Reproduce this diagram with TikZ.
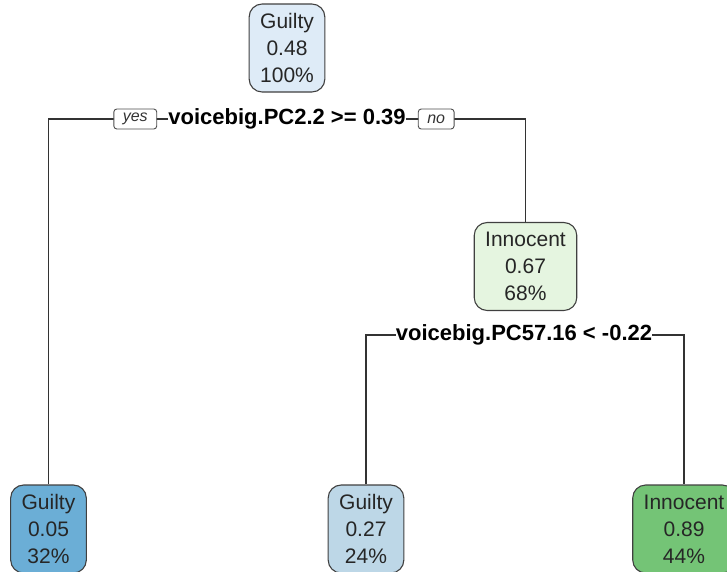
\documentclass[tikz,border=0pt]{standalone}
\usepackage{fontspec}
\setmainfont{Liberation Sans}
\usepackage{tikz}
\usetikzlibrary{positioning,backgrounds}

\definecolor{guiltyA}{HTML}{DEEBF7}
\definecolor{guiltyB}{HTML}{BDD7E7}
\definecolor{guiltyC}{HTML}{6BAED6}
\definecolor{innoA}{HTML}{E5F5E0}
\definecolor{innoC}{HTML}{74C476}

\tikzset{
  leafbox/.style={draw=black!75, line width=1.1pt, rounded corners=13pt, align=center,
    inner xsep=11pt, minimum height=88pt, text=black!85,
    font=\fontsize{21}{27}\selectfont},
  splitlabel/.style={fill=white, inner xsep=0pt, inner ysep=1pt,
    font=\fontsize{22}{26}\selectfont\bfseries},
  yesno/.style={draw=black!70, line width=0.9pt, fill=white, rounded corners=3pt,
    inner xsep=9pt, minimum height=20pt, inner ysep=0pt, text=black!80,
    font=\fontsize{16}{18}\selectfont\itshape},
  branch/.style={draw=black!80, line width=1.2pt}
}

\begin{document}
\begin{tikzpicture}[x=1pt, y=-1pt]
    \useasboundingbox (0,0) rectangle (727,571);

    \node(GU) [leafbox, fill=guiltyA] at (287,48) {Guilty\\0.48\\100\%};
    \node(PC2) [splitlabel] at (287,119) {voicebig.PC2.2 >= 0.39};
    \node(YES) [yesno, left=11pt of PC2] {yes};
    \node(NO) [yesno, right=12pt of PC2] {no};

    \node(IN) [leafbox, fill=innoA] at (525.5,266.5) {Innocent\\0.67\\68\%};
    \node(PC57) [splitlabel] at (524,335) {voicebig.PC57.16 < -0.22};

    \node(GL) [leafbox, fill=guiltyC] at (48.5,529) {Guilty\\0.05\\32\%};
    \node(GM) [leafbox, fill=guiltyB] at (366,529) {Guilty\\0.27\\24\%};
    \node(IR) [leafbox, fill=innoC] at (684,529) {Innocent\\0.89\\44\%};

    \begin{scope}[on background layer]
    \draw[branch] (GL.north) |- (PC2) -| (IN.north);
    \draw[branch] (GM.north) |- (PC57) -| (IR.north);
    \end{scope}
  \end{tikzpicture}
\end{document}
